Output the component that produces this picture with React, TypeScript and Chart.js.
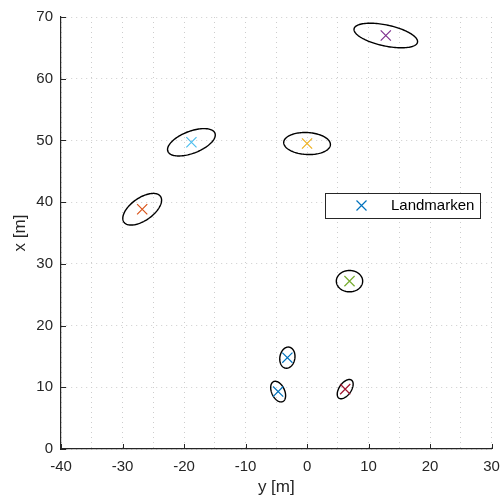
import React, { useEffect, useRef } from 'react';
import { Chart, registerables } from 'chart.js';

Chart.register(...registerables);

// Landmark positions (horizontal axis = "y [m]", vertical axis = "x [m]")
const landmarkY = [-3.2, -26.8, 0.0, 12.8, 6.9, -18.8, 6.2, -4.7];
const landmarkX = [14.8, 38.85, 49.5, 67.0, 27.2, 49.7, 9.7, 9.3];
const landmarkColors = ['#0072BD', '#D95319', '#EDB120', '#7E2F8E', '#77AC30', '#4DBEEE', '#A2142F', '#0072BD'];

// Uncertainty ellipses (semi-major, semi-minor in metres, rotation in degrees)
const ellipseMajor = [1.73, 3.63, 3.8, 5.27, 2.14, 4.1, 1.78, 1.78];
const ellipseMinor = [1.22, 1.83, 1.78, 1.7, 1.73, 1.78, 0.97, 1.05];
const ellipseAngle = [80, 35, -3, -12, 0, 21, 55, -65];

const xGridTicks = [-40, -35, -30, -25, -20, -15, -10, -5, 0, 5, 10, 15, 20, 25, 30];
const xLabelTicks = [-40, -30, -20, -10, 0, 10, 20, 30];
const yTicks = [0, 10, 20, 30, 40, 50, 60, 70];

const legendLabel = 'Landmarken';
const xTitle = 'y [m]';
const yTitle = 'x [m]';

const FONT = "'Liberation Sans', Arial, Helvetica, sans-serif";
const AXIS_COLOR = '#262626';
const GRID_COLOR = '#cdcdcd';

const ellipsePlugin = {
  id: 'ellipses',
  beforeDatasetsDraw(chart: any) {
    const { ctx, scales } = chart;
    const sx = scales.x;
    const sy = scales.y;
    ctx.save();
    ctx.strokeStyle = '#000000';
    ctx.lineWidth = 1.4;
    for (let i = 0; i < landmarkY.length; i++) {
      const cx = landmarkY[i];
      const cy = landmarkX[i];
      const a = ellipseMajor[i];
      const b = ellipseMinor[i];
      const th = (ellipseAngle[i] * Math.PI) / 180;
      ctx.beginPath();
      const n = 120;
      for (let k = 0; k <= n; k++) {
        const t = (k / n) * Math.PI * 2;
        const dx = a * Math.cos(t) * Math.cos(th) - b * Math.sin(t) * Math.sin(th);
        const dy = a * Math.cos(t) * Math.sin(th) + b * Math.sin(t) * Math.cos(th);
        const px = sx.getPixelForValue(cx + dx);
        const py = sy.getPixelForValue(cy + dy);
        if (k === 0) ctx.moveTo(px, py);
        else ctx.lineTo(px, py);
      }
      ctx.closePath();
      ctx.stroke();
    }
    ctx.restore();
  },
};

const tickMarkPlugin = {
  id: 'innerTicks',
  afterDraw(chart: any) {
    const { ctx, scales, chartArea } = chart;
    ctx.save();
    ctx.strokeStyle = AXIS_COLOR;
    ctx.lineWidth = 1;
    ctx.beginPath();
    for (const v of xLabelTicks) {
      const px = Math.round(scales.x.getPixelForValue(v)) + 0.5;
      ctx.moveTo(px, chartArea.bottom);
      ctx.lineTo(px, chartArea.bottom - 5);
    }
    for (const v of yTicks) {
      const py = Math.round(scales.y.getPixelForValue(v)) + 0.5;
      ctx.moveTo(chartArea.left, py);
      ctx.lineTo(chartArea.left + 5, py);
    }
    ctx.stroke();
    ctx.restore();
  },
};

const legendPlugin = {
  id: 'boxLegend',
  afterDraw(chart: any) {
    const { ctx, chartArea } = chart;
    const left = chartArea.left + 263.5;
    const top = chartArea.top + 176;
    const w = 155;
    const h = 25;
    ctx.save();
    ctx.fillStyle = '#ffffff';
    ctx.fillRect(left, top, w, h);
    ctx.strokeStyle = '#262626';
    ctx.lineWidth = 1;
    ctx.strokeRect(Math.round(left) + 0.5, Math.round(top) + 0.5, w, h);
    const mx = left + 37;
    const my = top + 12.5;
    const r = 5;
    ctx.strokeStyle = landmarkColors[0];
    ctx.lineWidth = 1.2;
    ctx.beginPath();
    ctx.moveTo(mx - r, my - r);
    ctx.lineTo(mx + r, my + r);
    ctx.moveTo(mx + r, my - r);
    ctx.lineTo(mx - r, my + r);
    ctx.stroke();
    ctx.fillStyle = '#000000';
    ctx.font = `15px ${FONT}`;
    ctx.textAlign = 'left';
    ctx.textBaseline = 'middle';
    ctx.fillText(legendLabel, left + 66.5, my + 0.5);
    ctx.restore();
  },
};

export default function App() {
  const canvasRef = useRef<HTMLCanvasElement | null>(null);

  useEffect(() => {
    const canvas = canvasRef.current;
    if (!canvas) return;
    const data = landmarkY.map((v, i) => ({ x: v, y: landmarkX[i] }));
    const chart = new Chart(canvas, {
      type: 'scatter',
      data: {
        datasets: [
          {
            label: legendLabel,
            data,
            pointStyle: 'crossRot',
            pointRadius: 7.2,
            pointHoverRadius: 7.2,
            pointBorderWidth: 1.2,
            pointBorderColor: landmarkColors,
            pointBackgroundColor: landmarkColors,
            showLine: false,
          },
        ],
      },
      options: {
        responsive: false,
        animation: false,
        events: [],
        layout: { padding: { top: 16, right: 7, left: 0, bottom: 0 } },
        plugins: {
          legend: { display: false },
          tooltip: { enabled: false },
        },
        scales: {
          x: {
            type: 'linear',
            min: -40,
            max: 30,
            afterBuildTicks: (scale: any) => {
              scale.ticks = xGridTicks.map((v) => ({ value: v }));
            },
            afterFit: (scale: any) => {
              scale.height = 51;
              scale.paddingLeft = 0;
              scale.paddingRight = 0;
            },
            ticks: {
              autoSkip: false,
              maxRotation: 0,
              padding: 9,
              color: AXIS_COLOR,
              font: { family: FONT, size: 15 },
              callback: (v: any) => (xLabelTicks.includes(Number(v)) ? String(v) : ''),
            },
            grid: {
              drawTicks: false,
              color: GRID_COLOR,
              lineWidth: 1,
            },
            border: { display: true, color: AXIS_COLOR, width: 1.2, dash: [1, 4] },
            title: {
              display: true,
              text: xTitle,
              color: AXIS_COLOR,
              font: { family: FONT, size: 17 },
              padding: { top: 0, bottom: 2 },
            },
          },
          y: {
            type: 'linear',
            min: 0,
            max: 70,
            afterBuildTicks: (scale: any) => {
              scale.ticks = yTicks.map((v) => ({ value: v }));
            },
            afterFit: (scale: any) => {
              scale.width = 61;
            },
            ticks: {
              padding: 8,
              color: AXIS_COLOR,
              font: { family: FONT, size: 15 },
            },
            grid: {
              drawTicks: false,
              color: GRID_COLOR,
              lineWidth: 1,
            },
            border: { display: true, color: AXIS_COLOR, width: 1.2, dash: [1, 4] },
            title: {
              display: true,
              text: yTitle,
              color: AXIS_COLOR,
              font: { family: FONT, size: 17 },
              padding: { top: 10, bottom: 0 },
            },
          },
        },
      } as any,
      plugins: [ellipsePlugin, tickMarkPlugin, legendPlugin],
    });
    return () => chart.destroy();
  }, []);

  return (
    <div style={{ position: 'absolute', left: 0, top: 0, width: 500, height: 500, background: '#fff' }}>
      <canvas ref={canvasRef} width={500} height={500} />
    </div>
  );
}
